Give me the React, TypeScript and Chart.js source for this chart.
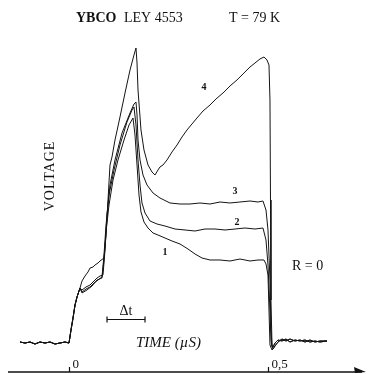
import React, { useEffect, useRef } from "react";
import { Chart, registerables } from "chart.js";

Chart.register(...registerables);

// ---------- data (time in µs, voltage in arbitrary units) ----------
const baseT = [-0.1231, -0.1106, -0.098, -0.0854, -0.0729, -0.0603, -0.0477, -0.0352, -0.0226, -0.0101, 0, 0.005, 0.0101, 0.0151, 0.0201, 0.0276];
const baseV = [0.33, 0, 0.33, -0.33, 0.33, 0, 0.33, -0.33, 0, 0.33, 0, 4.33, 8.33, 12.67, 15.33, 18.33];

const c4T = [0.0327, 0.0402, 0.0477, 0.0528, 0.0603, 0.0653, 0.0729, 0.0779, 0.0879, 0.093, 0.098, 0.103, 0.108, 0.1156, 0.1281, 0.1407, 0.1533, 0.1633, 0.1683, 0.1709, 0.1734, 0.1809, 0.1884, 0.1985, 0.2085, 0.2161, 0.2236, 0.2286, 0.2362, 0.2462, 0.2588, 0.2714, 0.2839, 0.2965, 0.309, 0.3216, 0.3367, 0.3543, 0.3693, 0.3869, 0.4045, 0.4221, 0.4372, 0.4548, 0.4673, 0.4799, 0.4899, 0.4975, 0.5025, 0.505, 0.5063, 0.5075, 0.5101];
const c4V = [20.67, 22.33, 23.67, 25.0, 25.33, 26.0, 26.67, 27.33, 28.33, 36.0, 47.67, 59.33, 62.0, 67.67, 75.33, 83.33, 91.0, 96.0, 98.33, 93.33, 84.33, 71.0, 64.33, 59.33, 57.0, 56.0, 57.67, 58.67, 59.33, 61.0, 63.67, 66.0, 68.67, 71.0, 73.0, 75.0, 77.33, 79.33, 81.33, 83.33, 85.67, 87.67, 89.67, 92.0, 93.33, 94.67, 95.33, 94.33, 92.67, 81.0, 47.67, 14.33, -0.67];

const c3T = [0.0327, 0.0427, 0.0528, 0.0628, 0.0704, 0.0779, 0.0854, 0.0905, 0.0955, 0.103, 0.1156, 0.1332, 0.1533, 0.1633, 0.1683, 0.1709, 0.1734, 0.1784, 0.1859, 0.196, 0.2111, 0.2286, 0.2538, 0.2789, 0.304, 0.3291, 0.3543, 0.3794, 0.4045, 0.4296, 0.4548, 0.4749, 0.4874, 0.495, 0.5, 0.505, 0.5075, 0.5101];
const c3V = [17.67, 18.67, 19.33, 20.67, 21.67, 22.33, 22.67, 31.0, 42.67, 52.67, 61.0, 70.0, 76.67, 79.67, 80.33, 76.0, 67.67, 61.0, 56.0, 52.67, 50.0, 48.33, 46.67, 46.33, 46.33, 46.67, 46.33, 47.0, 46.67, 47.0, 47.33, 47.0, 47.33, 44.33, 37.67, 21.0, 4.33, -1.0];

const c2T = [0.0327, 0.0427, 0.0528, 0.0628, 0.0729, 0.0829, 0.0879, 0.093, 0.1005, 0.1131, 0.1281, 0.1457, 0.1583, 0.1633, 0.1683, 0.1734, 0.1784, 0.1834, 0.191, 0.2035, 0.2211, 0.2412, 0.2663, 0.2915, 0.3166, 0.3417, 0.3668, 0.392, 0.4171, 0.4422, 0.4673, 0.4874, 0.495, 0.5, 0.505, 0.5075, 0.5101];
const c2V = [17.0, 18.0, 18.67, 20.0, 21.0, 22.0, 29.33, 39.33, 49.33, 57.67, 66.0, 73.67, 77.67, 78.67, 72.67, 61.0, 52.67, 46.67, 43.33, 40.67, 39.67, 39.0, 38.0, 37.67, 37.33, 38.0, 38.0, 37.67, 38.0, 38.33, 38.0, 38.33, 34.33, 26.0, 11.0, 1.0, -1.33];

const c1T = [0.0327, 0.0452, 0.0578, 0.0704, 0.0829, 0.0879, 0.093, 0.1005, 0.1106, 0.1231, 0.1382, 0.1508, 0.1608, 0.1658, 0.1709, 0.1759, 0.1809, 0.1884, 0.1985, 0.2111, 0.2236, 0.2412, 0.2588, 0.2789, 0.299, 0.3166, 0.3342, 0.3543, 0.3794, 0.4045, 0.4296, 0.4548, 0.4749, 0.4899, 0.495, 0.5, 0.5025, 0.505, 0.5101];
const c1V = [16.67, 17.67, 19.0, 21.0, 21.67, 27.67, 37.0, 46.0, 54.33, 61.0, 67.67, 72.67, 75.0, 69.33, 59.33, 49.33, 43.67, 40.33, 38.33, 36.67, 36.0, 35.0, 34.0, 33.0, 31.33, 29.67, 28.33, 27.67, 27.67, 27.33, 28.0, 27.33, 27.67, 27.67, 26.33, 22.67, 11.0, -0.67, -2.33];

const tailT = [0.5126, 0.5176, 0.5251, 0.5352, 0.5452, 0.5553, 0.5678, 0.5804, 0.593, 0.6055, 0.6181, 0.6307, 0.6482];
const tailV1 = [-2.0, -1.0, 0.33, 1.33, 0.67, 1.33, 0.67, 1.0, 0.33, 1.0, 0.33, 0.67, 0.67];
const tailV2 = [-1.33, 0, 1.0, 0.67, 1.33, 0.33, 1.0, 0.67, 1.0, 0.33, 0.67, 0.33, 0.67];

const curveNames = ["1", "2", "3", "4"];
const labelT = [0.2412, 0.4221, 0.4171, 0.3392];
const labelV = [30.33, 40.33, 50.67, 85.33];

const tickValues = [0, 0.5];
const tickLabels = ["0", "0,5"];

const deltaT = [0.0955, 0.191];
const deltaV = 8.0;

// ---------- helpers ----------
const build = (t: number[], v: number[], tv: number[]) => {
  const ts = baseT.concat(t, tailT);
  const vs = baseV.concat(v, tv);
  return ts.map((x, i) => ({ x, y: vs[i] }));
};

const SERIF = '"Liberation Serif", "Times New Roman", serif';

const overlay = {
  id: "overlay",
  afterDraw(chart: any) {
    const ctx = chart.ctx as CanvasRenderingContext2D;
    const xs = chart.scales.x;
    const ys = chart.scales.y;
    ctx.save();
    ctx.fillStyle = "#111";
    ctx.strokeStyle = "#111";
    ctx.textBaseline = "alphabetic";
    ctx.textAlign = "left";

    // title
    ctx.font = `bold 14px ${SERIF}`;
    ctx.fillText("YBCO", 76, 22);
    ctx.font = `14px ${SERIF}`;
    ctx.fillText("LEY 4553", 124, 22);
    ctx.fillText("T = 79 K", 229, 22);

    // VOLTAGE
    ctx.save();
    ctx.translate(54, 176);
    ctx.rotate(-Math.PI / 2);
    ctx.textAlign = "center";
    (ctx as any).letterSpacing = "1px";
    ctx.font = `14px ${SERIF}`;
    ctx.fillText("VOLTAGE", 0, 0);
    ctx.restore();

    // curve numbers
    ctx.font = `bold 10px ${SERIF}`;
    ctx.textAlign = "center";
    ctx.textBaseline = "middle";
    curveNames.forEach((n, i) => {
      ctx.fillText(n, xs.getPixelForValue(labelT[i]), ys.getPixelForValue(labelV[i]));
    });

    // R = 0
    ctx.font = `14px ${SERIF}`;
    ctx.textAlign = "left";
    ctx.textBaseline = "alphabetic";
    ctx.fillText("R = 0", 292, 270);

    // Δt bar
    const x1 = xs.getPixelForValue(deltaT[0]);
    const x2 = xs.getPixelForValue(deltaT[1]);
    const yb = Math.round(ys.getPixelForValue(deltaV)) + 0.5;
    ctx.lineWidth = 1.2;
    ctx.beginPath();
    ctx.moveTo(x1, yb);
    ctx.lineTo(x2, yb);
    ctx.moveTo(x1, yb - 3);
    ctx.lineTo(x1, yb + 3);
    ctx.moveTo(x2, yb - 3);
    ctx.lineTo(x2, yb + 3);
    ctx.stroke();
    ctx.font = `14px ${SERIF}`;
    ctx.textAlign = "center";
    ctx.fillText("Δt", (x1 + x2) / 2, yb - 5);

    // TIME label
    ctx.font = `italic 15px ${SERIF}`;
    ctx.textAlign = "left";
    ctx.fillText("TIME (µS)", 136, 347);

    // axis line with arrow
    const ay = 372;
    ctx.lineWidth = 1.5;
    ctx.beginPath();
    ctx.moveTo(8, ay);
    ctx.lineTo(362, ay);
    ctx.stroke();
    ctx.beginPath();
    ctx.moveTo(354, ay - 5);
    ctx.lineTo(366, ay);
    ctx.lineTo(355, ay + 1);
    ctx.closePath();
    ctx.fill();

    // ticks & labels
    ctx.font = `13px ${SERIF}`;
    ctx.lineWidth = 1.2;
    tickValues.forEach((tv, i) => {
      const px = Math.round(xs.getPixelForValue(tv)) + 0.5;
      ctx.beginPath();
      ctx.moveTo(px, ay - 5);
      ctx.lineTo(px, ay);
      ctx.stroke();
      ctx.fillText(tickLabels[i], px + 3, 368);
    });

    ctx.restore();
  },
};

export default function App() {
  const ref = useRef<HTMLCanvasElement | null>(null);
  useEffect(() => {
    if (!ref.current) return;
    const ds = (data: { x: number; y: number }[]) => ({
      data,
      borderColor: "#141414",
      borderWidth: 1,
      pointRadius: 0,
      tension: 0,
      fill: false,
    });
    const chart = new Chart(ref.current, {
      type: "line",
      data: {
        datasets: [
          ds(build(c1T, c1V, tailV1)),
          ds(build(c2T, c2V, tailV2)),
          ds(build(c3T, c3V, tailV1)),
          ds(build(c4T, c4V, tailV2)),
        ],
      },
      options: {
        animation: false,
        responsive: false,
        maintainAspectRatio: false,
        layout: { padding: 0 },
        parsing: false as any,
        plugins: { legend: { display: false }, tooltip: { enabled: false }, title: { display: false } },
        scales: {
          x: { type: "linear", display: false, min: -0.1734, max: 0.7513 },
          y: { type: "linear", display: false, min: -10.33, max: 114.33 },
        },
      },
      plugins: [overlay],
    });
    return () => chart.destroy();
  }, []);
  return (
    <div style={{ position: "absolute", left: 0, top: 0, width: 368, height: 374, background: "#fff" }}>
      <canvas ref={ref} width={368} height={374} style={{ display: "block", width: 368, height: 374 }} />
    </div>
  );
}
